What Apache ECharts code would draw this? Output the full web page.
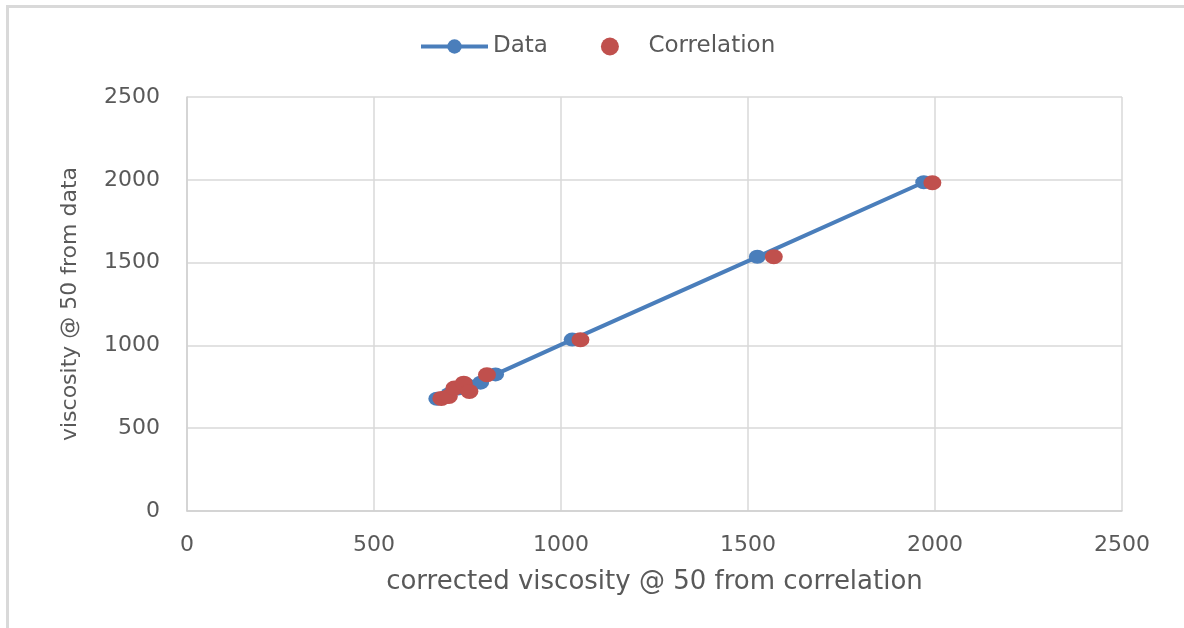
<!DOCTYPE html>
<html>
<head>
<meta charset="utf-8">
<script src="https://cdn.jsdelivr.net/npm/echarts@6/dist/echarts.min.js"></script>
<style>
  html, body { margin: 0; padding: 0; background: #ffffff; }
  #frame {
    position: absolute; left: 6px; top: 5px; width: 1178px; height: 623px;
    border-left: 3px solid #d9d9d9; border-top: 3px solid #d9d9d9;
  }
  #chart { position: absolute; left: 0; top: 0; width: 1184px; height: 628px; }
</style>
</head>
<body>
<div id="frame"></div>
<div id="chart"></div>
<script>
// measured viscosity at 50 vs corrected viscosity from the correlation
const dataX = [668, 700, 725, 750, 785, 825, 1030, 1525, 1970];
const dataY = [678, 705, 740, 760, 775, 825, 1035, 1535, 1985];

const corrX = [680, 700, 715, 740, 755, 802, 1052, 1569, 1993];
const corrY = [680, 692, 742, 772, 722, 823, 1034, 1535, 1982];

const xTicks = [0, 500, 1000, 1500, 2000, 2500];
const yTicks = [0, 500, 1000, 1500, 2000, 2500];

const pairs = (xs, ys) => xs.map((x, i) => [x, ys[i]]);

const FONT = 'DejaVu Sans';
const GREY = '#595959';
const BLUE = '#4a7ebb';
const RED = '#c0504d';

const chart = echarts.init(document.getElementById('chart'), null, { renderer: 'canvas' });

chart.setOption({
  backgroundColor: 'transparent',
  animation: false,
  textStyle: { fontFamily: FONT },
  legend: {
    top: 35,
    left: 419,
    padding: 0,
    itemWidth: 67,
    itemHeight: 18,
    itemGap: 53,
    textStyle: { color: GREY, fontSize: 23, fontFamily: FONT },
    data: [
      { name: 'Data', lineStyle: { width: 4, color: BLUE } },
      { name: 'Correlation' }
    ]
  },
  grid: { left: 187, right: 62, top: 97, bottom: 117, containLabel: false },
  xAxis: {
    type: 'value',
    min: xTicks[0],
    max: xTicks[xTicks.length - 1],
    interval: 500,
    name: 'corrected viscosity @ 50 from correlation',
    nameLocation: 'middle',
    nameGap: 58,
    nameTextStyle: { color: GREY, fontSize: 26, fontFamily: FONT },
    axisLine: { show: true, lineStyle: { color: '#d0d0d0', width: 1.5 } },
    axisTick: { show: false },
    axisLabel: { color: GREY, fontSize: 22, margin: 23, fontFamily: FONT, formatter: v => String(v) },
    splitLine: { show: true, lineStyle: { color: '#d9d9d9', width: 1.5 } }
  },
  yAxis: {
    type: 'value',
    min: yTicks[0],
    max: yTicks[yTicks.length - 1],
    interval: 500,
    name: 'viscosity @ 50 from data',
    nameLocation: 'middle',
    nameGap: 106,
    nameRotate: 90,
    nameTextStyle: { color: GREY, fontSize: 22, fontFamily: FONT },
    axisLine: { show: true, lineStyle: { color: '#d0d0d0', width: 1.5 } },
    axisTick: { show: false },
    axisLabel: { color: GREY, fontSize: 22, margin: 27, fontFamily: FONT, formatter: v => String(v) },
    splitLine: { show: true, lineStyle: { color: '#d9d9d9', width: 1.5 } }
  },
  series: [
    {
      name: 'Data',
      type: 'line',
      data: pairs(dataX, dataY),
      symbol: 'circle',
      symbolSize: [17, 14],
      showAllSymbol: true,
      itemStyle: { color: BLUE },
      lineStyle: { color: BLUE, width: 4 },
      z: 2
    },
    {
      name: 'Correlation',
      type: 'scatter',
      data: pairs(corrX, corrY),
      symbol: 'circle',
      symbolSize: [18, 15],
      itemStyle: { color: RED, opacity: 1 },
      z: 3
    }
  ]
});
</script>
</body>
</html>
